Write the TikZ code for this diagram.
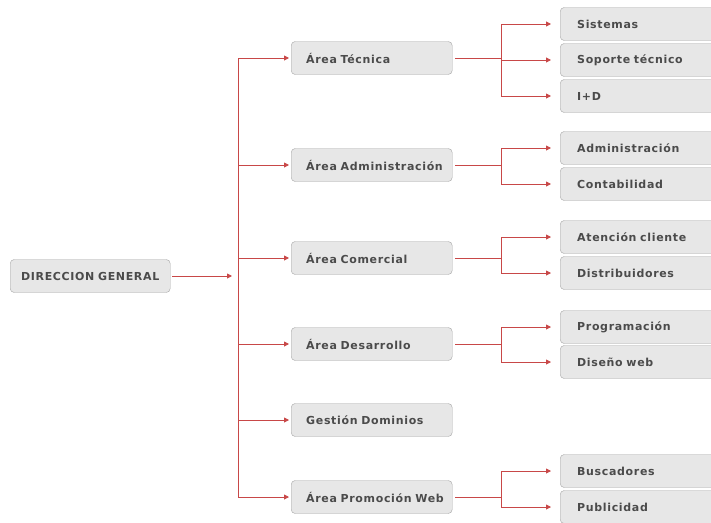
\documentclass[tikz,border=0pt]{standalone}
\usepackage{fontspec}
\setmainfont{DejaVu Sans}
\newfontfamily\orgfont[LetterSpace=6]{DejaVu Sans}
\usepackage{tikz}
\usetikzlibrary{positioning, arrows.meta, calc}
\definecolor{OrgRed}{RGB}{200,72,72}
\definecolor{OrgFill}{RGB}{231,231,231}
\definecolor{OrgLine}{RGB}{165,165,165}
\definecolor{OrgText}{RGB}{75,75,75}

\begin{document}
\begin{tikzpicture}[x=1pt, y=-1pt,
            box/.style={rectangle, rounded corners=4pt, fill=OrgFill, draw=OrgLine,
                        minimum height=33pt, inner xsep=6.5pt,
                        anchor=west, align=left, text=OrgText,
                        font=\orgfont\fontsize{11}{13}\selectfont\bfseries},
            area/.style={box, text width=148pt,
                         execute at begin node={\hspace*{8.5pt}}},
            dept/.style={box, text width=164pt,
                         execute at begin node={\hspace*{10.5pt}}},
            rail/.style={draw=OrgRed, line width=0.9pt},
            link/.style={rail, -{Triangle[length=5pt,width=5pt]}}
          ]
          \clip (0,0) rectangle (711,522);

          % Direction
          \node[box, text width=150pt, inner xsep=5pt, align=center] (dg) at (10,276) {DIRECCION GENERAL};

          % Areas
          \node[area] (tec) at (291,58)  {Área Técnica};
          \node[area] (adm) at (291,165) {Área Administración};
          \node[area] (com) at (291,258) {Área Comercial};
          \node[area] (des) at (291,344) {Área Desarrollo};
          \node[area] (dom) at (291,420) {Gestión Dominios};
          \node[area] (pro) at (291,497) {Área Promoción Web};

          % Departments
          \node[dept] (sis) at (560,24)  {Sistemas};
          \node[dept] (sop) at (560,60)  {Soporte técnico};
          \node[dept] (idd) at (560,96)  {I+D};
          \node[dept] (adc) at (560,148) {Administración};
          \node[dept] (cnt) at (560,184) {Contabilidad};
          \node[dept] (ate) at (560,237) {Atención cliente};
          \node[dept] (dis) at (560,273) {Distribuidores};
          \node[dept] (prg) at (560,327) {Programación};
          \node[dept] (dsw) at (560,362) {Diseño web};
          \node[dept] (bus) at (560,471) {Buscadores};
          \node[dept] (pub) at (560,507) {Publicidad};

          % Main trunk
          \coordinate (trunk) at (238,276);
          \draw[link, shorten <=2pt, shorten >=6pt] (dg.east) -- (trunk);
          \draw[rail] (trunk |- tec) -- (trunk |- pro);
          \foreach \a in {tec,adm,com,des,dom,pro}
            \draw[link, shorten >=2pt] (trunk |- \a) -- (\a.west);

          % Splits to departments
          \foreach \a/\first/\last/\all in {tec/sis/idd/{sis,sop,idd},
                                            adm/adc/cnt/{adc,cnt},
                                            com/ate/dis/{ate,dis},
                                            des/prg/dsw/{prg,dsw},
                                            pro/bus/pub/{bus,pub}} {
            \coordinate (\a S) at ([xshift=49pt]\a.east);
            \draw[rail, shorten <=3pt] (\a.east) -- (\a S);
            \draw[rail] (\a S |- \first) -- (\a S |- \last);
            \foreach \d in \all
              \draw[link, shorten >=9pt] (\a S |- \d) -- (\d.west);
          }
        \end{tikzpicture}
\end{document}
